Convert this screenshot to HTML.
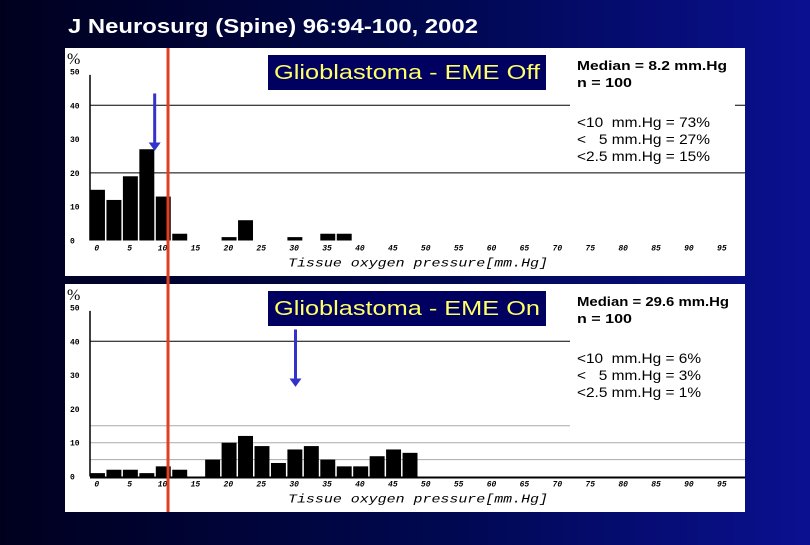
<!DOCTYPE html>
<html><head><meta charset="utf-8"><style>
html,body{margin:0;padding:0;}
body{width:810px;height:540px;overflow:hidden;background:linear-gradient(90deg,#00001e 0%,#000850 55%,#0a1090 100%);font-family:"Liberation Sans",sans-serif;}
</style></head><body>
<svg id="c" width="810" height="540" xmlns="http://www.w3.org/2000/svg">
<text x="68" y="33" fill="#fff" font-size="20" font-weight="bold" textLength="410" lengthAdjust="spacingAndGlyphs" font-family="Liberation Sans, sans-serif">J Neurosurg (Spine) 96:94-100, 2002</text>
</svg>
<script>
const binsTop = [15,12,19,27,13,2,0,0,1,6,0,0,1,0,2,2];
const binsBottom = [1,2,2,1,3,2,0,5,10,12,9,4,8,9,5,3,3,6,8,7];
const yTicks = [0,10,20,30,40,50];
const xTicks = [0,5,10,15,20,25,30,35,40,45,50,55,60,65,70,75,80,85,90,95];
const xTickLabels = ["0","5","10","15","20","25","30","35","40","45","50","55","60","65","70","75","80","85","90","95"];
const binWidth = 2.5;
const medianTop = 8.2, medianBottom = 29.6, threshold = 10;
const textsTop = ["Median = 8.2 mm.Hg","n = 100","<10  mm.Hg = 73%","<   5 mm.Hg = 27%","<2.5 mm.Hg = 15%"];
const textsBottom = ["Median = 29.6 mm.Hg","n = 100","<10  mm.Hg = 6%","<   5 mm.Hg = 3%","<2.5 mm.Hg = 1%"];
const NS="http://www.w3.org/2000/svg";
const svg=document.getElementById('c');
function mk(tag,attrs,parent){const e=document.createElementNS(NS,tag);for(const k in attrs)e.setAttribute(k,attrs[k]);(parent||svg).appendChild(e);return e;}
const xs = v => 89.5 + (v + 1.25) * 6.58;
const xEdge = v => 89.5 + v * 6.58;
function panel(top, bins, title, texts, median, key, isBottom){
  const y0 = top + 192.5, scale = 3.38;
  const ys = v => y0 - v*scale;
  const g = mk('g',{});
  
  
  const bg=mk('rect',{x:65,y:top,width:680,height:228,fill:'#fff'},g);
  
  
  if(isBottom){[5,10,15].forEach(v=>{const l=mk('line',{x1:90,x2:745,y1:ys(v),y2:ys(v),stroke:'#aaa','stroke-width':1},g);
    
    });}
  const major = isBottom ? [40] : [20,40];
  major.forEach(v=>{const l=mk('line',{x1:90,x2:745,y1:ys(v),y2:ys(v),stroke:'#000','stroke-width':1},g);
    
    });
  if(isBottom){const l=mk('line',{x1:90,x2:745,y1:y0+1,y2:y0+1,stroke:'#000','stroke-width':2},g);
    
    }
  const ax=mk('line',{x1:90,x2:90,y1:ys(49),y2:y0,stroke:'#000','stroke-width':1.5},g);
  
  
  bins.forEach((v,i)=>{ if(v<=0)return;
    const b=mk('rect',{x:xEdge(i*binWidth)+0.5,y:ys(v),width:binWidth*6.58-1.5,height:v*scale,fill:'#000'},g);
    
    });
  yTicks.forEach(v=>{const t=mk('text',{x:70,y:ys(v)+3,'font-size':8,'font-family':'Liberation Mono, monospace','font-weight':'bold',fill:'#000'},g);
    t.textContent=String(v);
    
    });
  const pc=mk('text',{x:67,y:top+16,'font-size':16,'font-family':'Liberation Serif, serif',fill:'#000'},g);
  pc.textContent='%';
  
  
  xTicks.forEach((v,i)=>{const t=mk('text',{x:xs(v)-1,y:y0+10,'font-size':8,'font-family':'Liberation Mono, monospace','font-weight':'bold','font-style':'italic','text-anchor':'middle',fill:'#000'},g);
    t.textContent=xTickLabels[i];
    
    });
  const xt=mk('text',{x:288,y:y0+26,'font-size':12,'font-family':'Liberation Mono, monospace','font-style':'italic',fill:'#000',textLength:260,lengthAdjust:'spacingAndGlyphs'},g);
  xt.textContent='Tissue oxygen pressure[mm.Hg]';
  
  
  const tb=mk('rect',{x:268,y:top+7,width:278,height:35,fill:'#000060'},g);
  
  
  const tt=mk('text',{x:274,y:top+31,'font-size':20,fill:'#ffff66',textLength:266,lengthAdjust:'spacingAndGlyphs'},g);
  tt.textContent=title;
  
  
  const sb=mk('rect',{x:570,y:top+2,width:isBottom?175:165,height:isBottom?148:122,fill:'#fff'},g);
  
  
  const ty=[top+22,top+39,top+79,top+96,top+113];
  const tl=isBottom?[152,55,124,124,124]:[150,55,133,133,133];
  texts.forEach((s,i)=>{const t=mk('text',{x:577,y:ty[i],'font-size':i<2?13:14,'font-weight':i<2?'bold':'normal',fill:'#000',textLength:tl[i],lengthAdjust:'spacingAndGlyphs'},g);
    t.textContent=s;
    t.style.whiteSpace='pre';
    
    });
  const ax2=xs(median)+3;
  const ar=mk('line',{x1:ax2,x2:ax2,y1:ys(43.5),y2:ys(29),stroke:'#3333cc','stroke-width':3},g);
  
  
  const ah=mk('polygon',{points:`${ax2-6},${ys(29)} ${ax2+6},${ys(29)} ${ax2},${ys(26.5)}`,fill:'#3333cc'},g);
  
  
}
panel(48, binsTop, 'Glioblastoma - EME Off', textsTop, medianTop, 'top', false);
panel(284, binsBottom, 'Glioblastoma - EME On', textsBottom, medianBottom, 'bottom', true);
const rx = xs(threshold)+4.5;
const rl=mk('line',{x1:rx,x2:rx,y1:48,y2:512,stroke:'#e04020','stroke-width':3});


</script>
</body></html>
